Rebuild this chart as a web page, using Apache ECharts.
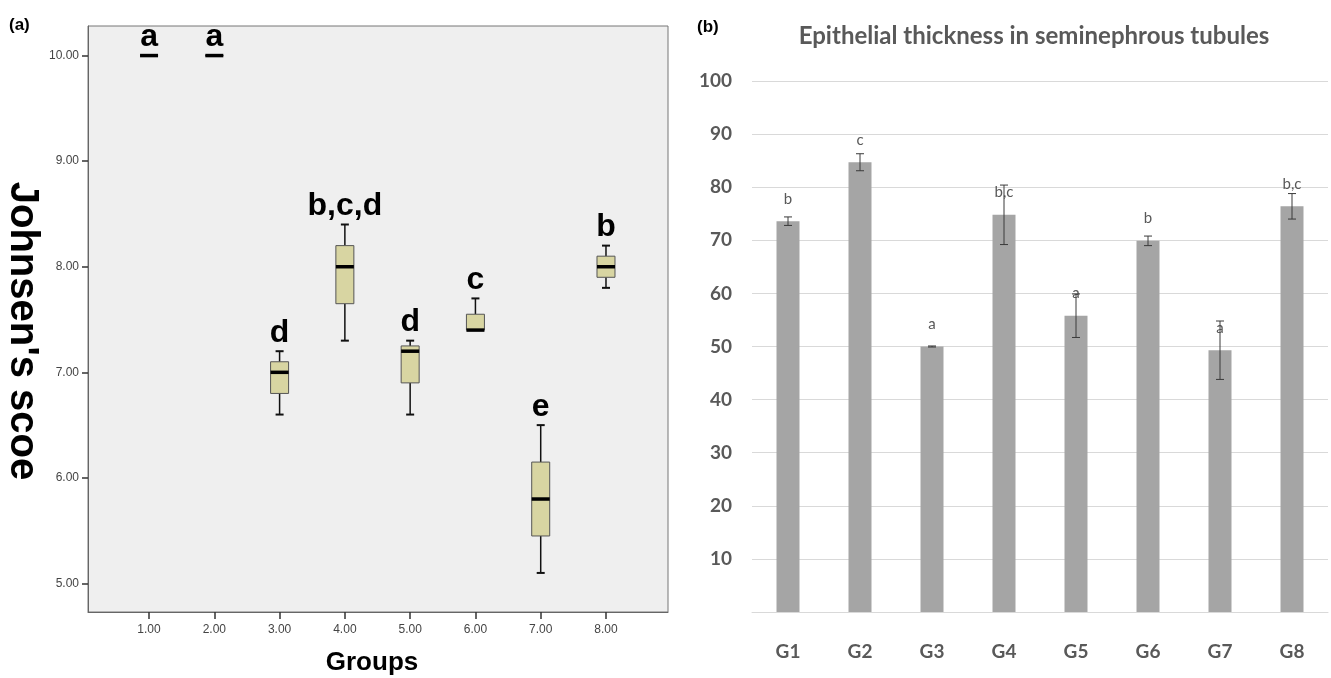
<!DOCTYPE html>
<html>
<head>
<meta charset="utf-8">
<script src="https://cdn.jsdelivr.net/npm/echarts@6/dist/echarts.min.js"></script>
<style>
html,body{margin:0;padding:0;background:#fff;}
#chart{width:1331px;height:678px;}
</style>
</head>
<body>
<div id="chart"></div>
<script>
// ---------- Panel (a): Johnsen's score box plots ----------
const groupsA  = [1, 2, 3, 4, 5, 6, 7, 8];
const boxMin   = [10, 10, 6.6, 7.3, 6.6, 7.4, 5.1, 7.8];
const boxQ1    = [10, 10, 6.8, 7.65, 6.9, 7.4, 5.45, 7.9];
const boxMed   = [10, 10, 7.0, 8.0, 7.2, 7.4, 5.8, 8.0];
const boxQ3    = [10, 10, 7.1, 8.2, 7.25, 7.55, 6.15, 8.1];
const boxMax   = [10, 10, 7.2, 8.4, 7.3, 7.7, 6.5, 8.2];
const lettersA = ['a', 'a', 'd', 'b,c,d', 'd', 'c', 'e', 'b'];
const xTicksA  = [1, 2, 3, 4, 5, 6, 7, 8];
const yTicksA  = [5, 6, 7, 8, 9, 10];

// ---------- Panel (b): Epithelial thickness bars ----------
const categoriesB = ['G1', 'G2', 'G3', 'G4', 'G5', 'G6', 'G7', 'G8'];
const meanB       = [73.6, 84.7, 50.0, 74.8, 55.8, 69.9, 49.3, 76.4];
const errB        = [0.8, 1.6, 0.1, 5.6, 4.1, 0.9, 5.5, 2.4];
const lettersB    = ['b', 'c', 'a', 'b,c', 'a', 'b', 'a', 'b,c'];

const boxData = groupsA.map((g, i) => [g, boxMin[i], boxQ1[i], boxMed[i], boxQ3[i], boxMax[i], i]);
const errData = categoriesB.map((c, i) => [i, meanB[i] - errB[i], meanB[i] + errB[i]]);

function renderBox(params, api) {
  const x = api.value(0);
  const pMin = api.coord([x, api.value(1)]);
  const pQ1 = api.coord([x, api.value(2)]);
  const pMed = api.coord([x, api.value(3)]);
  const pQ3 = api.coord([x, api.value(4)]);
  const pMax = api.coord([x, api.value(5)]);
  const idx = api.value(6);
  const cx = pMed[0];
  const bw = 18, cw = 8;
  const children = [];
  const ls = {stroke: '#111', lineWidth: 1.5};
  if (pQ3[1] - pMax[1] > 0.5) {
    children.push({type: 'line', shape: {x1: cx, y1: pMax[1], x2: cx, y2: pQ3[1]}, style: ls});
    children.push({type: 'line', shape: {x1: cx - cw / 2, y1: pMax[1], x2: cx + cw / 2, y2: pMax[1]}, style: {stroke: '#111', lineWidth: 2}});
  }
  if (pMin[1] - pQ1[1] > 0.5) {
    children.push({type: 'line', shape: {x1: cx, y1: pQ1[1], x2: cx, y2: pMin[1]}, style: ls});
    children.push({type: 'line', shape: {x1: cx - cw / 2, y1: pMin[1], x2: cx + cw / 2, y2: pMin[1]}, style: {stroke: '#111', lineWidth: 2}});
  }
  children.push({type: 'rect', shape: {x: cx - bw / 2, y: pQ3[1], width: bw, height: Math.max(0, pQ1[1] - pQ3[1])},
    style: {fill: '#d8d5a2', stroke: '#555', lineWidth: 1}});
  children.push({type: 'line', shape: {x1: cx - bw / 2, y1: pMed[1], x2: cx + bw / 2, y2: pMed[1]},
    style: {stroke: '#000', lineWidth: 3.5}});
  children.push({type: 'text', x: cx, y: pMax[1] - 2,
    style: {text: lettersA[idx], textAlign: 'center', textVerticalAlign: 'bottom',
      font: 'bold 32px "Liberation Sans", Arial, sans-serif', fill: '#000'}});
  return {type: 'group', children};
}

function renderErr(params, api) {
  const i = api.value(0);
  const lo = api.coord([i, api.value(1)]);
  const hi = api.coord([i, api.value(2)]);
  const cx = lo[0], cw = 8;
  const st = {stroke: '#3a3a3a', lineWidth: 1};
  return {type: 'group', children: [
    {type: 'line', shape: {x1: cx, y1: hi[1], x2: cx, y2: lo[1]}, style: st},
    {type: 'line', shape: {x1: cx - cw / 2, y1: hi[1], x2: cx + cw / 2, y2: hi[1]}, style: st},
    {type: 'line', shape: {x1: cx - cw / 2, y1: lo[1], x2: cx + cw / 2, y2: lo[1]}, style: st}
  ]};
}

const chart = echarts.init(document.getElementById('chart'), null, {renderer: 'canvas'});
const option = {
  animation: false,
  backgroundColor: '#ffffff',
  title: [
    {text: '(a)', left: 4, top: 12, textStyle: {fontFamily: 'Liberation Sans', fontWeight: 'bold', fontSize: 17, color: '#000'}},
    {text: '(b)', left: 692, top: 14, textStyle: {fontFamily: 'Liberation Sans', fontWeight: 'bold', fontSize: 17, color: '#000'}},
    {text: 'Epithelial thickness in seminephrous tubules', left: 1029, top: 19, textAlign: 'center',
      textStyle: {fontFamily: 'Lato', fontWeight: 'bold', fontSize: 24, color: '#595959'}}
  ],
  grid: [
    {left: 88, top: 26, width: 580, height: 586, show: true, backgroundColor: '#efefef', borderColor: '#777', borderWidth: 1,
      containLabel: false, outerBoundsMode: 'none'},
    {left: 752, top: 81, width: 576, height: 531, containLabel: false, outerBoundsMode: 'none'}
  ],
  xAxis: [
    {type: 'value', gridIndex: 0, min: 0.065, max: 8.95,
      name: 'Groups', nameLocation: 'middle', nameGap: 38,
      nameTextStyle: {fontFamily: 'Liberation Sans', fontWeight: 'bold', fontSize: 26, color: '#000', padding: [0, 12, 0, 0]},
      axisLine: {show: true, lineStyle: {color: '#666', width: 1}},
      axisTick: {show: true, customValues: xTicksA, length: 7, lineStyle: {color: '#333', width: 1.5}},
      axisLabel: {customValues: xTicksA, formatter: v => Number(v).toFixed(2), margin: 12,
        fontFamily: 'Liberation Sans', fontSize: 12, color: '#444'},
      splitLine: {show: false}},
    {type: 'category', gridIndex: 1, data: categoriesB,
      axisLine: {show: true, lineStyle: {color: '#d9d9d9', width: 1}},
      axisTick: {show: false},
      axisLabel: {margin: 30, fontFamily: 'Lato', fontWeight: 'bold', fontSize: 19, color: '#595959'}}
  ],
  yAxis: [
    {type: 'value', gridIndex: 0, min: 4.73, max: 10.28,
      name: "Johnsen's scoe", nameLocation: 'middle', nameGap: 46, nameRotate: -90,
      nameTextStyle: {fontFamily: 'Liberation Sans', fontWeight: 'bold', fontSize: 40, color: '#000', padding: [0, 0, 0, 24]},
      axisLine: {show: true, lineStyle: {color: '#666', width: 1}},
      axisTick: {show: true, customValues: yTicksA, length: 6, lineStyle: {color: '#333', width: 1.5}},
      axisLabel: {customValues: yTicksA, formatter: v => Number(v).toFixed(2), margin: 9,
        fontFamily: 'Liberation Sans', fontSize: 12, color: '#444'},
      splitLine: {show: false}},
    {type: 'value', gridIndex: 1, min: 0, max: 100, interval: 10,
      axisLine: {show: false}, axisTick: {show: false},
      axisLabel: {formatter: v => (v === 0 ? '' : String(v)), margin: 20,
        fontFamily: 'Lato', fontWeight: 'bold', fontSize: 19, color: '#595959'},
      splitLine: {show: true, lineStyle: {color: '#d9d9d9', width: 1}}}
  ],
  series: [
    {type: 'custom', xAxisIndex: 0, yAxisIndex: 0, data: boxData, renderItem: renderBox,
      encode: {x: 0, y: [1, 2, 3, 4, 5]}, clip: false, z: 5},
    {type: 'bar', xAxisIndex: 1, yAxisIndex: 1, data: meanB, barWidth: 23,
      itemStyle: {color: '#a5a5a5'},
      label: {show: true, position: 'top', distance: 15, formatter: p => lettersB[p.dataIndex],
        fontFamily: 'Lato', fontSize: 15, color: '#595959'}},
    {type: 'custom', xAxisIndex: 1, yAxisIndex: 1, data: errData, renderItem: renderErr,
      encode: {x: 0, y: [1, 2]}, z: 10}
  ]
};
chart.setOption(option);
</script>
</body>
</html>
